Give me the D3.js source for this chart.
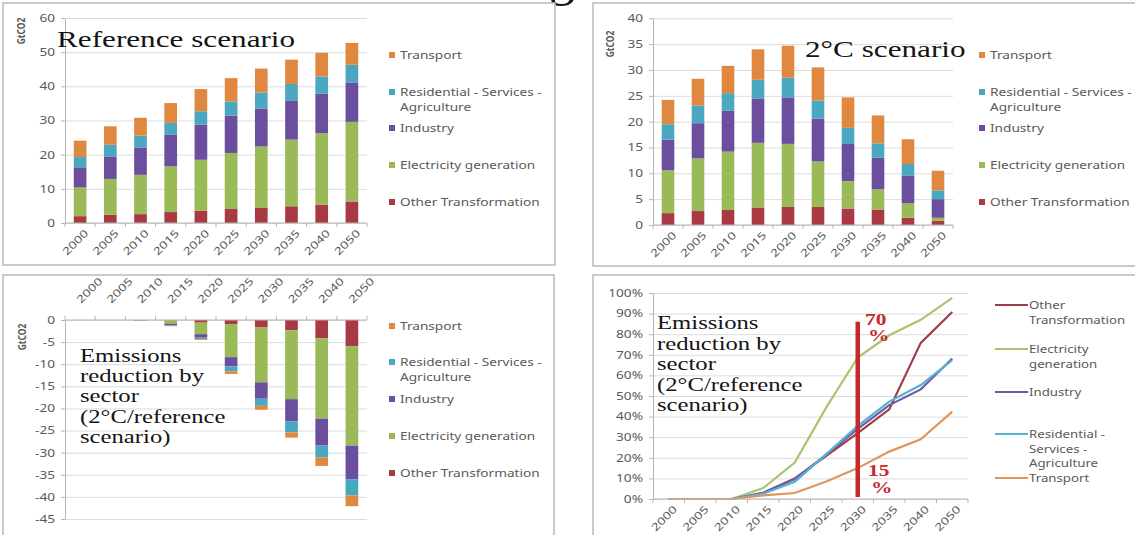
<!DOCTYPE html>
<html>
<head>
<meta charset="utf-8">
<script src="https://cdn.jsdelivr.net/npm/d3@7"></script>
<style>
  body { margin: 0; background: #fff; }
  svg { display: block; }
  .tick-lbl, .leg { font-family: 'Noto Sans', 'DejaVu Sans', sans-serif; fill: #595959; }
  .ttl { font-family: 'Liberation Serif', 'DejaVu Serif', serif; fill: #141414; }
</style>
</head>
<body>
<script>
// ---- data ----
const years = ["2000", "2005", "2010", "2015", "2020", "2025", "2030", "2035", "2040", "2050"];
const keys = ["other", "elec", "industry", "res", "transport"];
const sectorLabels = [
  ["Other Transformation"],
  ["Electricity generation"],
  ["Industry"],
  ["Residential - Services -", "Agriculture"],
  ["Transport"]
];
const lineLabels = [
  ["Other", "Transformation"],
  ["Electricity", "generation"],
  ["Industry"],
  ["Residential -", "Services -", "Agriculture"],
  ["Transport"]
];

// Reference scenario, GtCO2
const refOther     = [2.0, 2.4, 2.6, 3.2, 3.6, 4.1, 4.4, 4.9, 5.4, 6.3];
const refElec      = [8.4, 10.5, 11.5, 13.4, 14.9, 16.4, 18.0, 19.5, 20.9, 23.3];
const refIndustry  = [5.9, 6.6, 8.0, 9.2, 10.3, 10.9, 11.1, 11.5, 11.6, 11.4];
const refRes       = [3.0, 3.4, 3.5, 3.5, 3.9, 4.2, 4.7, 4.8, 5.0, 5.3];
const refTransport = [4.8, 5.4, 5.2, 5.8, 6.5, 6.8, 7.0, 7.1, 6.9, 6.4];

// 2°C scenario, GtCO2
const c2Other     = [2.3, 2.7, 2.9, 3.4, 3.5, 3.5, 3.2, 3.0, 1.4, 0.8];
const c2Elec      = [8.3, 10.2, 11.3, 12.5, 12.2, 8.8, 5.3, 3.9, 2.8, 0.6];
const c2Industry  = [5.9, 6.8, 7.9, 8.6, 9.0, 8.3, 7.3, 6.1, 5.3, 3.6];
const c2Res       = [3.0, 3.4, 3.4, 3.6, 3.8, 3.5, 3.0, 2.8, 2.3, 1.7];
const c2Transport = [4.7, 5.2, 5.3, 5.9, 6.2, 6.4, 5.9, 5.4, 4.8, 3.8];

// reduction 2°C vs reference, GtCO2
const redOther     = [0, 0, -0.1, -0.1, -0.6, -0.9, -1.7, -2.3, -4.1, -5.9];
const redElec      = [0, 0, 0, -0.8, -2.6, -7.5, -12.4, -15.6, -18.2, -22.5];
const redIndustry  = [0, 0, 0, -0.3, -0.8, -2.1, -3.7, -5.0, -6.1, -7.6];
const redRes       = [0, 0, 0, -0.1, -0.3, -1.1, -1.6, -2.5, -2.7, -3.7];
const redTransport = [0, 0, -0.1, -0.1, -0.2, -0.6, -0.9, -1.2, -1.9, -2.4];

// reduction in % by sector
const pctOther     = [0, 0, 0, 3, 10, 21, 32, 43.5, 75.8, 90.8];
const pctElec      = [0, 0, 0, 5.3, 17.7, 44.5, 68.7, 79.5, 87, 97.6];
const pctIndustry  = [0, 0, 0, 3, 9.7, 21.5, 34, 45.6, 53.2, 68.2];
const pctRes       = [0, 0, 0, 2.6, 8.4, 21.8, 35.5, 47.3, 55.3, 67.4];
const pctTransport = [0, 0, 0, 1.8, 2.9, 8.5, 15, 23, 29, 42.4];

const markerYear = "2030";
const markerSpan = [1, 86];

// ---- look ----
const S = 1.3;  // the frame is stretched sideways, so is the text
const barColors  = ["#a93a44", "#9aba58", "#6b4f9e", "#4aa7c0", "#e0883f"];
const lineColors = ["#9e3d4a", "#a9c46c", "#6f5aa6", "#55b2d3", "#e0955a"];
const gridColor = "#dcdcdc";
const axisColor = "#b5b5b5";
const frameColor = "#bdbdbd";
const red = "#c8272b";

const svg = d3.select("body").append("svg")
  .attr("width", 1135)
  .attr("height", 535);

svg.append("rect").attr("width", 1135).attr("height", 535).attr("fill", "#fff");

// stray glyph of the slide title above the charts
svg.append("text").attr("class", "ttl")
  .attr("x", 549).attr("y", -5)
  .style("font-size", "52px").attr("fill", "#000")
  .text("g");

function stext(parent, x, y, str, anchor, extra) {
  return parent.append("text")
    .attr("transform", `translate(${x},${y}) scale(${S},1)` + (extra || ""))
    .attr("text-anchor", anchor || "start")
    .text(str);
}

// panel frames
[[3, 3, 552, 262], [593, 3, 560, 263], [3, 275, 551, 280], [593, 275, 560, 280]]
  .forEach(([x, y, w, h]) => svg.append("rect")
    .attr("x", x).attr("y", y).attr("width", w).attr("height", h)
    .attr("fill", "#fff").attr("stroke", frameColor).attr("stroke-width", 1.6));

function leftAxis(g, x0, x1, y, ticks, fmt) {
  g.append("g")
    .attr("transform", `translate(${x0},0)`)
    .call(d3.axisLeft(y).tickValues(ticks).tickSize(-(x1 - x0)).tickFormat(""))
    .call(a => {
      a.select(".domain").remove();
      a.selectAll("line").attr("stroke", gridColor);
    });
  g.append("g")
    .attr("transform", `translate(${x0},0)`)
    .call(d3.axisLeft(y).tickValues(ticks).tickSize(4).tickSizeOuter(0).tickFormat(fmt))
    .call(a => {
      a.select(".domain").attr("stroke", axisColor);
      a.selectAll(".tick line").attr("stroke", axisColor);
      a.selectAll(".tick text")
        .attr("class", "tick-lbl")
        .attr("x", 0)
        .attr("transform", `translate(-10,0) scale(${S},1)`)
        .style("font-size", "10.5px");
    });
}

function categoryLine(g, x, y0, tickDir) {
  const half = x.step() / 2;
  const mid = d => (x.bandwidth ? x(d) + x.bandwidth() / 2 : x(d));
  const r = x.range();
  g.append("line").attr("x1", r[0]).attr("x2", r[1]).attr("y1", y0).attr("y2", y0)
    .attr("stroke", axisColor);
  const bounds = years.map(d => mid(d) - half).concat([mid(years[years.length - 1]) + half]);
  g.selectAll("line.bt").data(bounds).join("line").attr("class", "bt")
    .attr("x1", d => d).attr("x2", d => d)
    .attr("y1", y0).attr("y2", y0 + 4 * tickDir)
    .attr("stroke", axisColor);
}

function yearLabels(g, x, y0, top) {
  const mid = d => (x.bandwidth ? x(d) + x.bandwidth() / 2 : x(d));
  years.forEach(d => {
    const t = top
      ? g.append("text").attr("transform", `translate(${mid(d) + 1},${y0 - 16}) rotate(-45) scale(${S},1)`)
      : g.append("text").attr("transform", `translate(${mid(d) + 9},${y0 + 11}) rotate(-45) scale(${S},1)`)
        .attr("text-anchor", "end");
    t.attr("class", "tick-lbl").style("font-size", "10.5px").text(d);
  });
}

function unitLabel(x, y) {
  svg.append("text")
    .attr("class", "tick-lbl")
    .attr("transform", `translate(${x},${y}) scale(${S},1) rotate(-90)`)
    .attr("text-anchor", "middle")
    .attr("fill", "#333")
    .style("font-size", "8.5px").style("font-weight", "bold")
    .text("GtCO2");
}

function barPanel(series, xRange, yDomain, yRange, ticks, topLabels) {
  const g = svg.append("g");
  const x = d3.scaleBand().domain(years).range(xRange).paddingInner(0.58).paddingOuter(0.29);
  const y = d3.scaleLinear().domain(yDomain).range(yRange);

  leftAxis(g, xRange[0], xRange[1], y, ticks, d => String(d));

  const rows = years.map((yr, i) => {
    const r = { year: yr };
    keys.forEach((k, j) => { r[k] = series[j][i]; });
    return r;
  });
  const stacked = d3.stack().keys(keys).offset(d3.stackOffsetDiverging)(rows);

  g.selectAll("g.layer").data(stacked).join("g")
    .attr("class", "layer")
    .attr("fill", (d, i) => barColors[i])
    .selectAll("rect").data(d => d).join("rect")
      .attr("x", d => x(d.data.year))
      .attr("width", x.bandwidth())
      .attr("y", d => y(Math.max(d[0], d[1])))
      .attr("height", d => Math.abs(y(d[0]) - y(d[1])));

  categoryLine(g, x, y(0), topLabels ? -1 : 1);
  yearLabels(g, x, y(0), topLabels);
}

function barLegend(x, ys) {
  [4, 3, 2, 1, 0].forEach((k, i) => {
    svg.append("rect")
      .attr("x", x).attr("y", ys[i] - 3)
      .attr("width", 6).attr("height", 6)
      .attr("fill", barColors[k]);
    sectorLabels[k].forEach((line, j) => {
      stext(svg, x + 11, ys[i] + 3.8 + j * 15, line)
        .attr("class", "leg").style("font-size", "10.5px");
    });
  });
}

function titleBlock(lines, x, y0, step, size) {
  lines.forEach((line, i) => {
    stext(svg, x, y0 + i * step, line).attr("class", "ttl").style("font-size", size + "px");
  });
}

// ---- top left: reference scenario ----
barPanel([refOther, refElec, refIndustry, refRes, refTransport],
  [65, 367], [0, 60], [223, 18], d3.range(0, 61, 10), false);
barLegend(389, [55, 92, 128, 165, 202]);
unitLabel(25, 31);
titleBlock(["Reference scenario"], 57, 47, 0, 24);

// ---- top right: 2°C scenario ----
barPanel([c2Other, c2Elec, c2Industry, c2Res, c2Transport],
  [653, 953], [0, 40], [225, 18.3], d3.range(0, 41, 5), false);
barLegend(979, [55, 92, 128, 165, 202]);
unitLabel(614, 44);
titleBlock(["2°C scenario"], 805, 57, 0, 24);

// ---- bottom left: reduction by sector, GtCO2 ----
barPanel([redOther, redElec, redIndustry, redRes, redTransport],
  [65, 367], [-45, 0], [519, 320], d3.range(-45, 1, 5), true);
barLegend(389, [326, 362, 399, 436, 473]);
unitLabel(26, 337);
titleBlock(["Emissions", "reduction by", "sector", "(2°C/reference", "scenario)"], 80, 361.5, 20.4, 19);

// ---- bottom right: reduction by sector, % ----
(function () {
  const g = svg.append("g");
  const x = d3.scalePoint().domain(years).range([653, 968]).padding(0.5);
  const y = d3.scaleLinear().domain([0, 1]).range([499, 293]);
  leftAxis(g, 653, 968, y, d3.range(0, 11).map(d => d / 10), d3.format(".0%"));

  const series = [pctOther, pctElec, pctIndustry, pctRes, pctTransport];
  const line = d3.line().x((d, i) => x(years[i])).y(d => y(d / 100));
  g.selectAll("path.ser").data(series).join("path")
    .attr("class", "ser")
    .attr("d", line)
    .attr("fill", "none")
    .attr("stroke", (d, i) => lineColors[i])
    .attr("stroke-width", 2.2);

  categoryLine(g, x, y(0), 1);
  yearLabels(g, x, y(0), false);

  // highlight of 2030
  g.append("line")
    .attr("x1", x(markerYear)).attr("x2", x(markerYear))
    .attr("y1", y(markerSpan[0] / 100)).attr("y2", y(markerSpan[1] / 100))
    .attr("stroke", red).attr("stroke-width", 4.5);
  [["70", 865, 325], ["%", 868, 341], ["15", 868, 476], ["%", 871, 493]].forEach(([t, tx, ty]) => {
    stext(g, tx, ty, t).attr("class", "ttl").attr("fill", red)
      .style("font-size", "16.5px").style("font-weight", "bold").style("fill", red);
  });

  // legend
  const ys = [305, 349, 392, 434, 478];
  lineLabels.forEach((lines, k) => {
    svg.append("line")
      .attr("x1", 995).attr("x2", 1028).attr("y1", ys[k]).attr("y2", ys[k])
      .attr("stroke", lineColors[k]).attr("stroke-width", 2.2);
    lines.forEach((t, j) => {
      stext(svg, 1029, ys[k] + 3.8 + j * 14.7, t).attr("class", "leg").style("font-size", "10.2px");
    });
  });

  titleBlock(["Emissions", "reduction by", "sector", "(2°C/reference", "scenario)"], 657, 329, 20.5, 19);
})();
</script>
</body>
</html>
